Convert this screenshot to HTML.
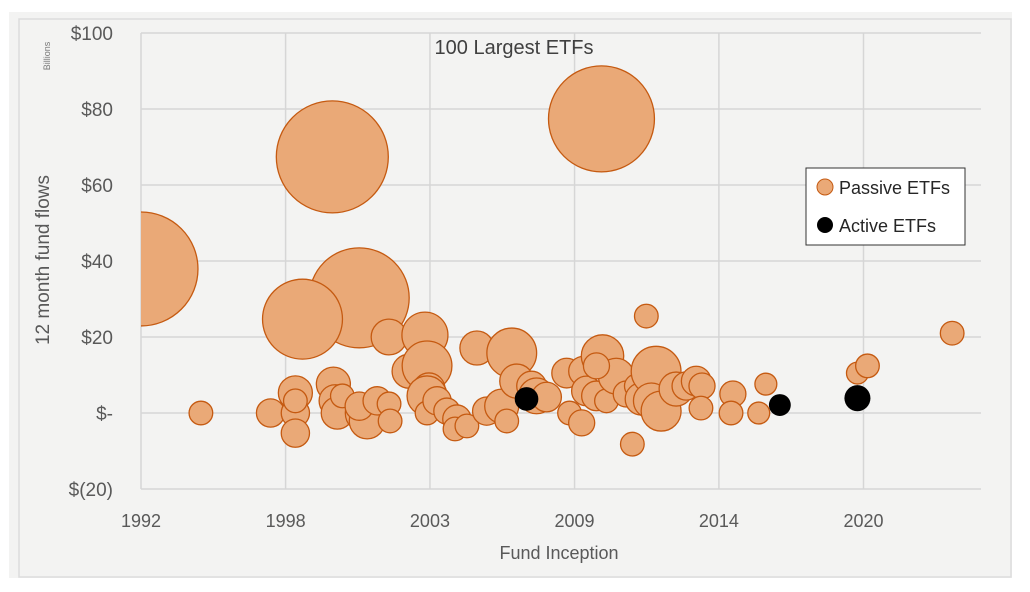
<!DOCTYPE html>
<html><head><meta charset="utf-8">
<style>
html,body{margin:0;padding:0;background:#fff;}
svg{display:block;font-family:"Liberation Sans",sans-serif;}
</style></head>
<body>
<svg id="chart" width="1030" height="592" viewBox="0 0 1030 592">
  <rect x="9" y="12" width="1003" height="566" fill="#f3f3f2"/>
  <rect x="19" y="19" width="992" height="558" fill="none" stroke="#dcdcdc" stroke-width="1.5"/>
  <defs><clipPath id="plotclip"><rect x="141" y="33" width="840" height="456"/></clipPath></defs>
  <g id="grid"></g>
  <g id="ylabels"></g>
  <g id="xlabels"></g>
  <g id="bubbles" clip-path="url(#plotclip)"></g>
  <text x="514" y="54" text-anchor="middle" font-size="20" fill="#404040">100 Largest ETFs</text>
  <text transform="translate(49,260) rotate(-90)" text-anchor="middle" font-size="19" fill="#595959">12 month fund flows</text>
  <text transform="translate(50,56) rotate(-90)" text-anchor="middle" font-size="9" fill="#777">Billions</text>
  <text x="559" y="559" text-anchor="middle" font-size="18" fill="#595959">Fund Inception</text>
  <g>
    <rect x="806" y="168" width="159" height="77" fill="#fff" stroke="#333" stroke-width="1"/>
    <circle cx="825" cy="187" r="8" fill="#eaa977" stroke="#c55a11" stroke-width="1"/>
    <text x="839" y="194" font-size="18" fill="#262626">Passive ETFs</text>
    <circle cx="825" cy="225" r="8" fill="#000"/>
    <text x="839" y="232" font-size="18" fill="#262626">Active ETFs</text>
  </g>
</svg>
<script>
const yTicks = [100, 80, 60, 40, 20, 0, -20];
const yTickLabels = ["$100", "$80", "$60", "$40", "$20", "$-", "$(20)"];
const xTicks = [1992.9, 1998.38, 2003.85, 2009.33, 2014.8, 2020.28, 2025.76];
const xTickLabels = ["1992", "1998", "2003", "2009", "2014", "2020", ""];
const passiveYear = [1992.9,2000.15,2010.35,2001.17,1999.02,1995.17,1997.81,1998.75,1998.75,1998.75,1998.75,2000.19,2000.26,2000.34,2000.53,2001.4,2001.47,2001.17,2001.85,2002.3,2002.34,2002.3,2003.66,2003.06,2003.74,2003.81,2003.74,2003.74,2004.12,2004.49,2004.87,2004.8,2005.63,2005.25,2006.0,2006.57,2006.95,2007.14,2006.76,2007.7,2007.89,2008.27,2009.03,2009.14,2009.67,2009.6,2010.39,2009.78,2010.16,2010.54,2010.91,2010.16,2011.29,2012.05,2011.52,2011.67,2011.86,2012.42,2012.24,2012.61,2013.18,2013.56,2013.94,2014.16,2014.12,2015.33,2015.26,2016.58,2016.31,2020.05,2020.43,2023.64];
const passiveFlow = [37.9,67.4,77.4,30.3,24.7,0,0,5.3,0,-5.3,3.2,7.6,3.2,0,4.5,0,-2.1,1.8,3.2,2.4,-2.1,20,20.5,11,12.4,6.3,4.5,0,3.2,0.5,-1.6,-4.2,17.1,-3.4,0.5,1.8,15.8,8.4,-2.1,7.1,4.5,4.2,10.5,0,11,-2.6,15,5.8,4.5,3.2,9.7,12.4,5,25.5,-8.2,7.1,3.7,11,3.2,0.5,6.3,7.1,8.4,7.1,1.3,5,0,7.6,0,10.5,12.4,21];
const passiveSize = [325,314,281,250,160,14,20,29,20,20,14,29,26,26,14,40,32,20,20,14,14,32,53,29,62,26,40,14,20,17,20,14,29,14,20,29,62,29,14,22,32,22,22,14,22,17,45,22,22,14,32,17,17,14,14,14,26,62,32,40,29,20,22,17,14,17,14,12,12,12,14,14];
const activeYear = [2007.51, 2017.11, 2020.05];
const activeFlow = [3.7, 2.1, 3.9];
const activeSize = [14, 12, 17];

const NS = "http://www.w3.org/2000/svg";
const X0 = 141, X1 = 981, Y0 = 33, Y1 = 489;
function xScale(v){ return X0 + (v - 1992.9) * (144.5 / 5.476); }
function yScale(v){ return Y1 - (v + 20) / 120 * (Y1 - Y0); }
function rScale(s){ return 3.16 * Math.sqrt(s); }

const grid = document.getElementById('grid');
const yl = document.getElementById('ylabels');
const xl = document.getElementById('xlabels');
yTicks.forEach((t, i) => {
  const y = yScale(t);
  const ln = document.createElementNS(NS, 'line');
  ln.setAttribute('x1', X0); ln.setAttribute('x2', X1);
  ln.setAttribute('y1', y); ln.setAttribute('y2', y);
  ln.setAttribute('stroke', '#d6d6d6'); ln.setAttribute('stroke-width', '1.5');
  
  
  grid.appendChild(ln);
  const tx = document.createElementNS(NS, 'text');
  tx.setAttribute('x', 113); tx.setAttribute('y', y + 7);
  tx.setAttribute('text-anchor', 'end'); tx.setAttribute('font-size', '19');
  tx.setAttribute('fill', '#595959');
  tx.textContent = yTickLabels[i];
  
  
  yl.appendChild(tx);
});
xTicks.forEach((t, i) => {
  const x = xScale(t);
  if (x > X1 + 1) return;
  const ln = document.createElementNS(NS, 'line');
  ln.setAttribute('x1', x); ln.setAttribute('x2', x);
  ln.setAttribute('y1', Y0); ln.setAttribute('y2', Y1);
  ln.setAttribute('stroke', '#d6d6d6'); ln.setAttribute('stroke-width', '1.5');
  
  
  grid.appendChild(ln);
  const tx = document.createElementNS(NS, 'text');
  tx.setAttribute('x', x); tx.setAttribute('y', 527);
  tx.setAttribute('text-anchor', 'middle'); tx.setAttribute('font-size', '18');
  tx.setAttribute('fill', '#595959');
  tx.textContent = xTickLabels[i];
  
  
  xl.appendChild(tx);
});
const bg = document.getElementById('bubbles');
passiveYear.forEach((yr, i) => {
  const c = document.createElementNS(NS, 'circle');
  c.setAttribute('cx', xScale(yr)); c.setAttribute('cy', yScale(passiveFlow[i]));
  c.setAttribute('r', rScale(passiveSize[i]));
  c.setAttribute('fill', '#eaa977'); c.setAttribute('stroke', '#c55a11');
  c.setAttribute('stroke-width', '1.3');
  
  
  bg.appendChild(c);
});
activeYear.forEach((yr, i) => {
  const c = document.createElementNS(NS, 'circle');
  c.setAttribute('cx', xScale(yr)); c.setAttribute('cy', yScale(activeFlow[i]));
  c.setAttribute('r', rScale(activeSize[i]));
  c.setAttribute('fill', '#000');
  
  
  bg.appendChild(c);
});
</script>
</body></html>
